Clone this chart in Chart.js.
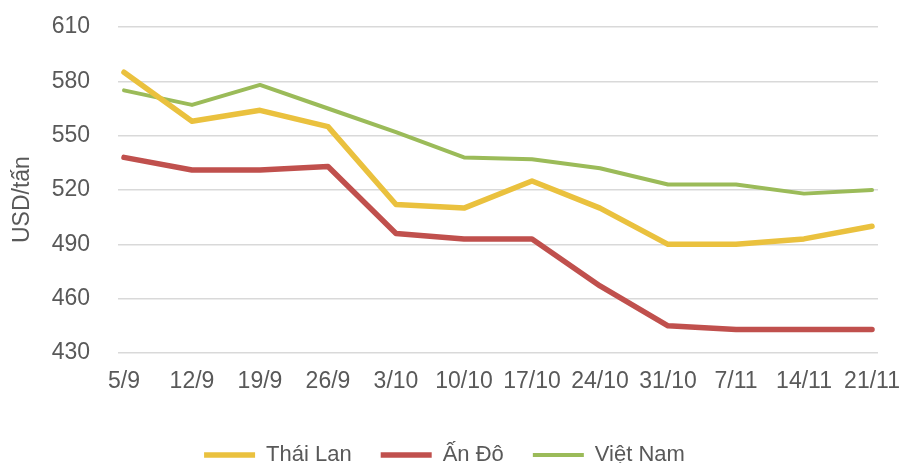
<!DOCTYPE html>
<html>
<head>
<meta charset="utf-8">
<script src="https://cdn.jsdelivr.net/npm/chart.js@4"></script>
<style>
  html, body { margin: 0; padding: 0; background: #fff; }
  #wrap { width: 901px; height: 463px; }
</style>
</head>
<body>
<div id="wrap"><canvas id="riceChart"></canvas></div>
<script>
// Giá gạo xuất khẩu (USD/tấn)
const labels = ['5/9', '12/9', '19/9', '26/9', '3/10', '10/10', '17/10', '24/10', '31/10', '7/11', '14/11', '21/11'];
const thaiLan = [585, 558, 564, 555, 512, 510, 525, 510, 490, 490, 493, 500];
const anDo = [538, 531, 531, 533, 496, 493, 493, 467, 445, 443, 443, 443];
const vietNam = [575, 567, 578, 565, 552, 538, 537, 532, 523, 523, 518, 520];
const yTicks = [430, 460, 490, 520, 550, 580, 610];

const textColor = '#595959';
const fontFamily = '"Liberation Sans", Arial, sans-serif';

function toPoints(values) {
    return values.map(function(v, i) { return { x: i, y: v }; });
}

document.addEventListener('DOMContentLoaded', function() {
    const ctx = document.getElementById('riceChart').getContext('2d');

    new Chart(ctx, {
        type: 'line',
        data: {
            datasets: [{
                label: 'Thái Lan',
                data: toPoints(thaiLan),
                borderColor: '#EAC13E',
                backgroundColor: '#EAC13E',
                borderWidth: 5.5
            }, {
                label: 'Ấn Đô',
                data: toPoints(anDo),
                borderColor: '#C0504D',
                backgroundColor: '#C0504D',
                borderWidth: 5.5
            }, {
                label: 'Việt Nam',
                data: toPoints(vietNam),
                borderColor: '#9BBB59',
                backgroundColor: '#9BBB59',
                borderWidth: 4
            }]
        },
        options: {
            responsive: true,
            maintainAspectRatio: false,
            animation: false,
            layout: {
                padding: { top: 27, right: 23, bottom: -13, left: 11 }
            },
            elements: {
                point: { radius: 0 },
                line: { tension: 0, borderCapStyle: 'round', borderJoinStyle: 'round' }
            },
            plugins: {
                legend: {
                    position: 'bottom',
                    labels: {
                        usePointStyle: true,
                        pointStyle: 'line',
                        pointStyleWidth: 51,
                        color: textColor,
                        padding: 29,
                        font: { family: fontFamily, size: 22 }
                    }
                },
                tooltip: { enabled: false }
            },
            scales: {
                x: {
                    type: 'linear',
                    min: -0.088,
                    max: labels.length - 1 + 0.088,
                    afterBuildTicks: function(axis) {
                        axis.ticks = labels.map(function(l, i) { return { value: i }; });
                    },
                    afterFit: function(axis) {
                        axis.height = 62;
                        axis.paddingLeft = 0;
                        axis.paddingRight = 0;
                    },
                    ticks: {
                        color: textColor,
                        padding: 15,
                        maxRotation: 0,
                        autoSkip: false,
                        font: { family: fontFamily, size: 23 },
                        callback: function(value) {
                            return labels[value];
                        }
                    },
                    grid: { display: false, drawTicks: false },
                    border: { display: false }
                },
                y: {
                    min: yTicks[0],
                    max: yTicks[yTicks.length - 1],
                    afterBuildTicks: function(axis) {
                        axis.ticks = yTicks.map(function(v) { return { value: v }; });
                    },
                    afterFit: function(axis) {
                        axis.width = 107;
                        axis.paddingTop = 0;
                        axis.paddingBottom = 0;
                    },
                    ticks: {
                        color: textColor,
                        padding: 28,
                        font: { family: fontFamily, size: 23 }
                    },
                    grid: {
                        color: '#D9D9D9',
                        lineWidth: 1.5,
                        drawTicks: false
                    },
                    border: { display: false },
                    title: {
                        display: true,
                        text: 'USD/tấn   ',
                        color: textColor,
                        padding: 0,
                        font: { family: fontFamily, size: 23, lineHeight: 1 }
                    }
                }
            }
        }
    });
});
</script>
</body>
</html>
